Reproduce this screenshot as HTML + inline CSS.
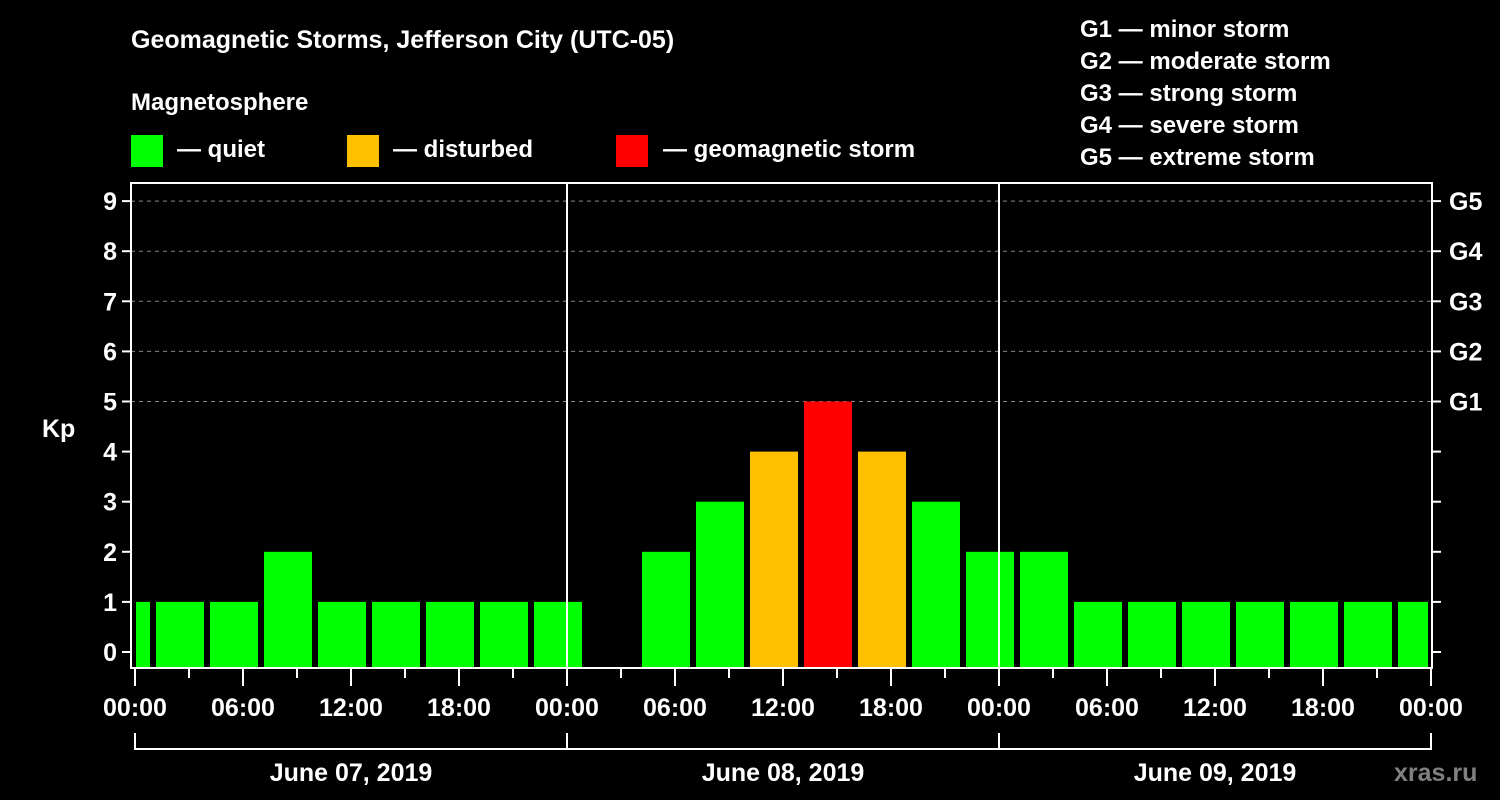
<!DOCTYPE html>
<html><head><meta charset="utf-8"><style>
html,body{margin:0;padding:0;background:#000;}
svg{display:block;font-family:"Liberation Sans",sans-serif;font-weight:bold;}
</style></head><body>
<svg id="chart" width="1500" height="800" viewBox="0 0 1500 800">
<text x="131" y="48" fill="#fff" font-size="25">Geomagnetic Storms, Jefferson City (UTC-05)</text>
<text x="131" y="110" fill="#fff" font-size="24">Magnetosphere</text>
<g><rect x="131" y="135" width="32" height="32" fill="#00ff00"/><text x="177" y="157" fill="#fff" font-size="24">— quiet</text></g>
<g><rect x="347" y="135" width="32" height="32" fill="#ffc000"/><text x="393" y="157" fill="#fff" font-size="24">— disturbed</text></g>
<g><rect x="616" y="135" width="32" height="32" fill="#ff0000"/><text x="663" y="157" fill="#fff" font-size="24">— geomagnetic storm</text></g>
<g fill="#fff" font-size="24">
<text x="1080" y="37">G1 — minor storm</text>
<text x="1080" y="69">G2 — moderate storm</text>
<text x="1080" y="101">G3 — strong storm</text>
<text x="1080" y="133">G4 — severe storm</text>
<text x="1080" y="165">G5 — extreme storm</text>
</g>
<text x="42" y="437" fill="#fff" font-size="25">Kp</text>
<g id="grid"></g>
<g id="bars"></g>
<g id="axes"></g>
<text x="1394" y="781" fill="#808080" font-size="25">xras.ru</text>
</svg>
<script>
const kpStartHours = [-2,1,4,7,10,13,16,19,22,25,28,31,34,37,40,43,46,49,52,55,58,61,64,67,70];
const kpValues = [1,1,1,2,1,1,1,1,1,null,2,3,4,5,4,3,2,2,1,1,1,1,1,1,1];
const yTicks = [0,1,2,3,4,5,6,7,8,9];
const gLabels = [[5,'G1'],[6,'G2'],[7,'G3'],[8,'G4'],[9,'G5']];
const xTickLabels = ['00:00','06:00','12:00','18:00','00:00','06:00','12:00','18:00','00:00','06:00','12:00','18:00','00:00'];
const dayLabels = ['June 07, 2019','June 08, 2019','June 09, 2019'];

const NS='http://www.w3.org/2000/svg';
const X0=135, PXH=18, L=131, R=1432, T=183, B=668;
const x = h => X0 + h*PXH;
const y = v => 652 - v*50.1;
function mk(tag, attrs, parent){const e=document.createElementNS(NS,tag);for(const k in attrs)e.setAttribute(k,attrs[k]);parent.appendChild(e);return e;}
const grid=document.getElementById('grid'), bars=document.getElementById('bars'), axes=document.getElementById('axes');

yTicks.forEach(v=>{
  if(v>=5){const g=mk('line',{x1:L,x2:R,y1:y(v),y2:y(v),stroke:'#888','stroke-width':1,'stroke-dasharray':'4,4'},grid);
    
    }
  const t=mk('line',{x1:L-9,x2:L,y1:y(v),y2:y(v),stroke:'#fff','stroke-width':2},axes);
  
  
  const rt=mk('line',{x1:R,x2:R+9,y1:y(v),y2:y(v),stroke:'#fff','stroke-width':2},axes);
  
  
  const lb=mk('text',{x:L-14,y:y(v)+9,fill:'#fff','font-size':25,'text-anchor':'end'},axes);
  lb.textContent=v;
  
  
});
gLabels.forEach(([v,s])=>{
  const lb=mk('text',{x:1449,y:y(v)+9,fill:'#fff','font-size':25},axes);
  lb.textContent=s;
  
  
});

kpStartHours.forEach((h,i)=>{
  const v=kpValues[i]; if(v==null) return;
  let x1=Math.max(x(h)+3, X0+1), x2=Math.min(x(h+3)-3, R-4);
  const c = v>=5?'#ff0000':(v>=4?'#ffc000':'#00ff00');
  const r=mk('rect',{x:x1,y:y(v),width:x2-x1,height:B-1-y(v),fill:c},bars);
  
  
});

const fr=mk('path',{d:`M${L},${B} L${L},${T} L${R},${T} L${R},${B} Z`,fill:'none',stroke:'#fff','stroke-width':2},axes);


[24,48].forEach(h=>{
  const d=mk('line',{x1:x(h),x2:x(h),y1:T,y2:B,stroke:'#fff','stroke-width':2},axes);
  
  
});
for(let h=0;h<=72;h+=3){
  const major=h%6===0;
  const t=mk('line',{x1:x(h),x2:x(h),y1:B,y2:major?686:678,stroke:'#fff','stroke-width':2},axes);
  
  
}
xTickLabels.forEach((s,i)=>{
  const lb=mk('text',{x:x(i*6),y:716,fill:'#fff','font-size':25,'text-anchor':'middle'},axes);
  lb.textContent=s;
  
  
});
const br=mk('path',{d:`M${x(0)},733 L${x(0)},749 L${x(72)},749 L${x(72)},733 M${x(24)},733 L${x(24)},749 M${x(48)},733 L${x(48)},749`,fill:'none',stroke:'#fff','stroke-width':2},axes);


dayLabels.forEach((s,i)=>{
  const lb=mk('text',{x:x(i*24+12),y:781,fill:'#fff','font-size':25,'text-anchor':'middle'},axes);
  lb.textContent=s;
  
  
});
</script>
</body></html>
